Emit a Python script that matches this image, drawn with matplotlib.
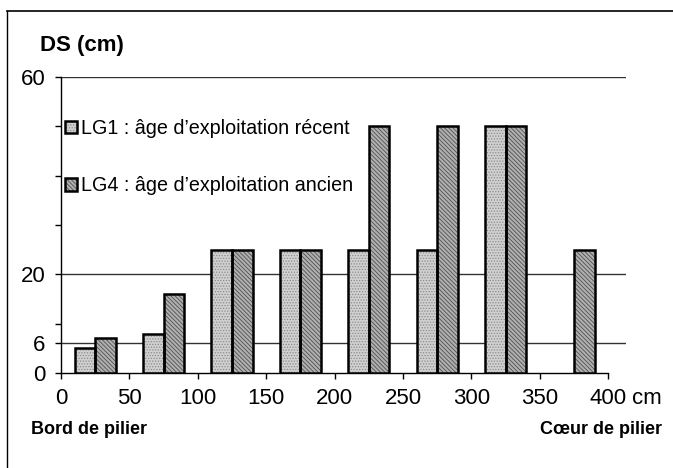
import numpy as np
import matplotlib
matplotlib.use("Agg")
import matplotlib.pyplot as plt
from matplotlib.lines import Line2D
from matplotlib.legend_handler import HandlerTuple

plt.rcParams['font.family'] = ['Liberation Sans', 'DejaVu Sans']
plt.rcParams['hatch.linewidth'] = 0.6

# Data
positions = [25, 75, 125, 175, 225, 275, 325, 375]          # cm from pillar edge
lg1 = [5, 8, 25, 25, 25, 25, 50, np.nan]                    # LG1 : recent
lg4 = [7, 16, 25, 25, 50, 50, 50, 25]                       # LG4 : old
x_ticks = [0, 50, 100, 150, 200, 250, 300, 350, 400]
y_major = [0, 6, 20, 60]
y_minor = [10, 30, 40, 50]
label_lg1 = "LG1 : âge d\u2019exploitation récent"
label_lg4 = "LG4 : âge d\u2019exploitation ancien"

W, H = 673, 468
fig = plt.figure(figsize=(W / 100, H / 100), dpi=100)
ax = fig.add_axes([61 / W, 1 - 373 / H, (626 - 61) / W, (373 - 77) / H])

bw = 15
pos = np.array(positions, dtype=float)
h1 = ax.bar(pos - bw / 2, lg1, width=bw, color='#d0d0d0', hatch='......',
            edgecolor='#8c8c8c', linewidth=0, zorder=3)
h4 = ax.bar(pos + bw / 2, lg4, width=bw, color='#b0b0b0',
            hatch='\\\\\\\\\\\\\\\\', edgecolor='#505050', linewidth=0, zorder=3)
e1 = ax.bar(pos - bw / 2, lg1, width=bw, fill=False, edgecolor='black',
            linewidth=1.8, zorder=4)
e4 = ax.bar(pos + bw / 2, lg4, width=bw, fill=False, edgecolor='black',
            linewidth=1.8, zorder=4)

ax.set_xlim(0, 413)
ax.set_ylim(0, 60)
ax.set_xticks(x_ticks)
ax.set_xticklabels([str(v) for v in x_ticks])
ax.set_yticks(y_major)
ax.set_yticklabels([str(v) for v in y_major])
ax.set_yticks(y_minor, minor=True)

ax.tick_params(axis='both', which='both', direction='out', length=4, width=1,
               labelsize=16, pad=7)
ax.tick_params(axis='y', which='minor', length=4)

for s in ['top', 'right']:
    ax.spines[s].set_visible(False)
ax.spines['bottom'].set_bounds(0, 400)
ax.spines['left'].set_linewidth(1)
ax.spines['bottom'].set_linewidth(1)

for yv in y_major[1:]:
    ax.axhline(yv, color='#333333', linewidth=1, zorder=1)

ax.annotate('cm', xy=(400, 0), xycoords=('data', 'axes fraction'),
            xytext=(17, -11), textcoords='offset points', ha='left', va='top',
            fontsize=16)

leg = ax.legend([(h1, e1), (h4, e4)], [label_lg1, label_lg4],
                handler_map={tuple: HandlerTuple(ndivide=1, pad=0)},
                loc='upper left', bbox_to_anchor=(65 / W, 1 - 119 / H),
                bbox_transform=fig.transFigure, frameon=False, fontsize=14.2,
                handlelength=0.6, handleheight=0.6, handletextpad=0.2,
                labelspacing=1.95, borderpad=0, borderaxespad=0)

fig.text(40 / W, 1 - 45 / H, 'DS (cm)', fontsize=16, fontweight='bold',
         ha='left', va='center')
fig.text(31 / W, 1 - 429 / H, 'Bord de pilier', fontsize=13,
         fontweight='bold', ha='left', va='center')
fig.text(662 / W, 1 - 429 / H, 'C\u0153ur de pilier', fontsize=13,
         fontweight='bold', ha='right', va='center')

# page frame lines (top and left)
fig.add_artist(Line2D([7 / W, 1], [1 - 11 / H, 1 - 11 / H], color='black',
                      linewidth=1.2, transform=fig.transFigure))
fig.add_artist(Line2D([7 / W, 7 / W], [0, 1 - 11 / H], color='black',
                      linewidth=1.0, transform=fig.transFigure))

fig.savefig('out.png', dpi=100)
